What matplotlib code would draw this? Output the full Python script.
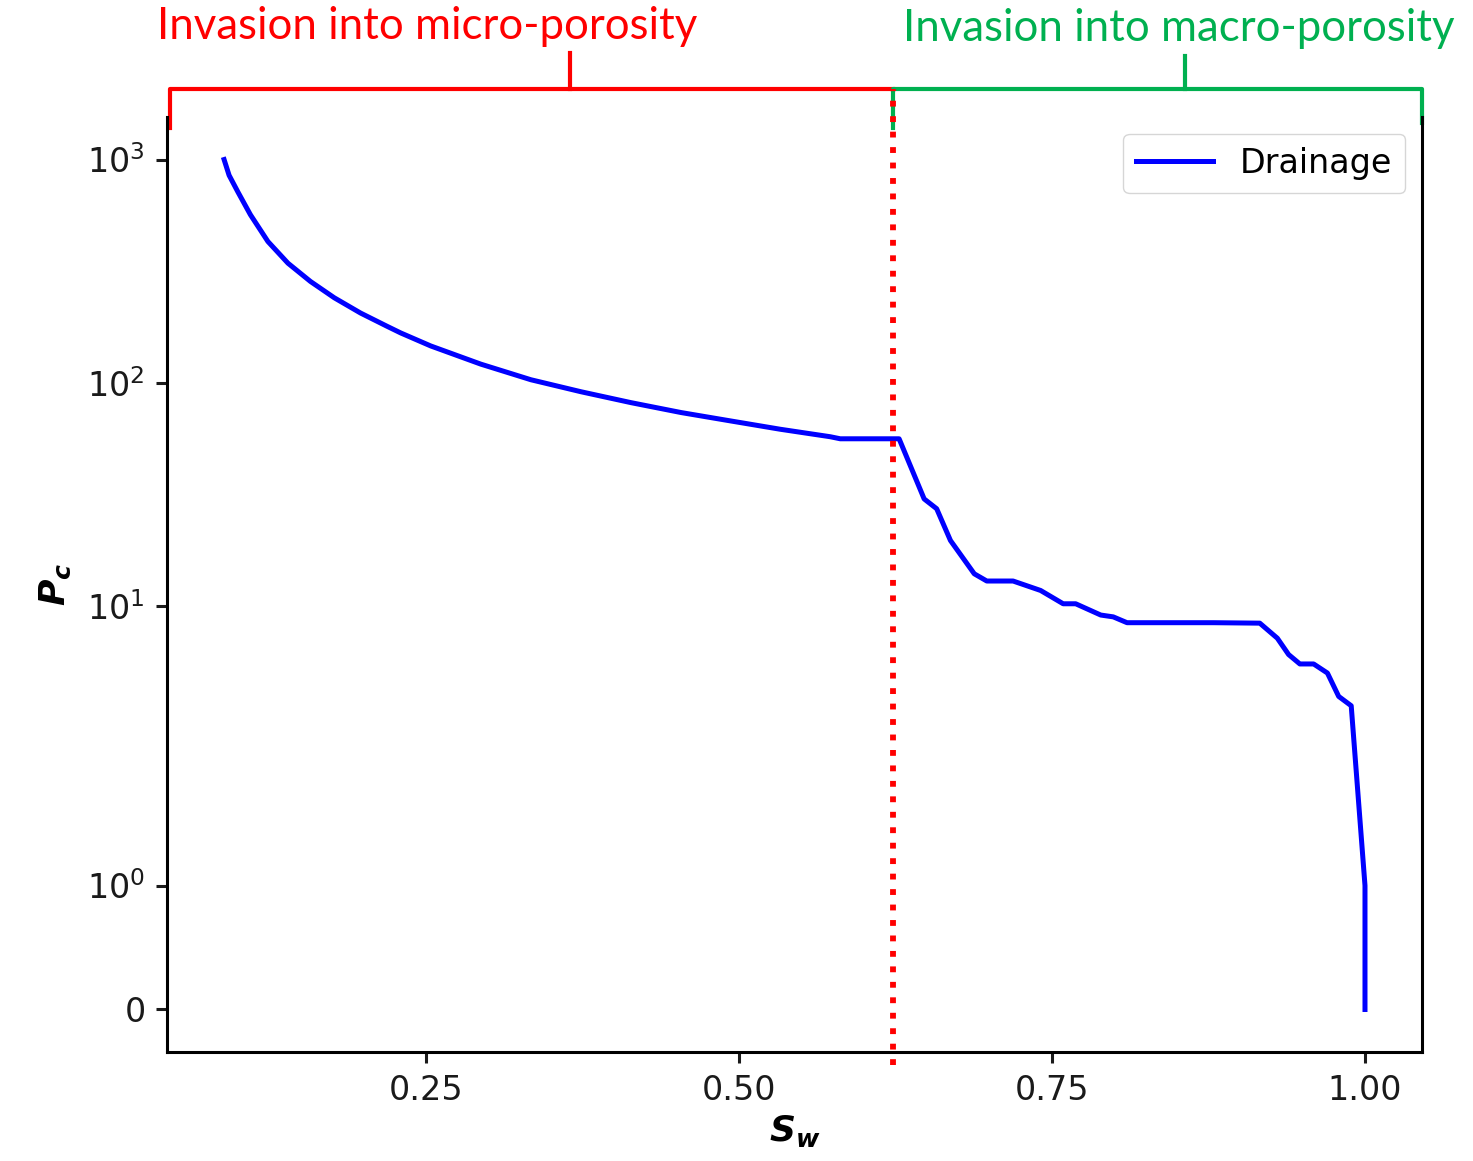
import matplotlib.pyplot as plt
from matplotlib.ticker import FormatStrFormatter, NullLocator

# Кривая дренирования: водонасыщенность и капиллярное давление.
sw = [0.089, 0.093, 0.100, 0.110, 0.124, 0.140, 0.158, 0.177, 0.198, 0.219,
      0.230, 0.254, 0.294, 0.334, 0.374, 0.414, 0.454, 0.493, 0.533, 0.573,
      0.581, 0.628, 0.648, 0.658, 0.669, 0.688, 0.698, 0.719, 0.741, 0.759,
      0.769, 0.789, 0.799, 0.810, 0.879, 0.916, 0.930, 0.939, 0.948, 0.959,
      0.970, 0.979, 0.989, 1.000, 1.000]
pc = [1000, 850, 716, 566, 429, 343, 284, 240, 205, 179,
      167, 146, 121, 103, 91.0, 81.3, 73.4, 67.4, 61.8, 57.2,
      56.0, 56.0, 30.1, 27.2, 19.6, 13.9, 12.9, 12.9, 11.7, 10.2,
      10.2, 9.08, 8.91, 8.39, 8.39, 8.35, 7.15, 6.04, 5.48, 5.48,
      4.99, 3.92, 3.56, 1.0, 0.0]

y_ticks = [0, 1, 10, 100, 1000]
x_ticks = [0.25, 0.50, 0.75, 1.00]

# Граница между микро- и макропористостью.
sw_split = 0.623
micro_label = "Invasion into micro-porosity"
macro_label = "Invasion into macro-porosity"

red = '#FF0000'
green = '#00B050'

fig = plt.figure(figsize=(14.73, 11.61), dpi=100)
ax = fig.add_axes([0.1134, 0.0939, 0.852, 0.8053])

ax.plot(sw, pc, color='#0000FF', linewidth=3.6, label='Drainage')
ax.set_yscale('symlog', linthresh=2)
ax.set_yticks(y_ticks)
ax.yaxis.set_minor_locator(NullLocator())
ax.set_xticks(x_ticks)
ax.xaxis.set_major_formatter(FormatStrFormatter('%.2f'))
# фиксируем пределы, чтобы скобки сверху их не сдвигали
x0, x1 = ax.get_xlim()
ax.set_xlim(x0, x1)
ax.set_ylim(ax.get_ylim())

# Оформление осей.
ax.spines['top'].set_visible(False)
for side in ['left', 'right', 'bottom']:
    ax.spines[side].set_linewidth(2.2)
ax.tick_params(labelsize=24, length=8, width=2.2, pad=8, colors='#1a1a1a')
ax.set_xlabel(r'$\mathbfit{S_w}$', fontsize=26, labelpad=4)
ax.set_ylabel(r'$\mathbfit{P_c}$', fontsize=26, labelpad=10)
ax.legend(loc='upper right', fontsize=24, handlelength=2.3,
          fancybox=True, framealpha=0.8)

# Скобки над графиком и пунктир на границе областей.
tr = ax.get_xaxis_transform()
ax.plot([sw_split, sw_split], [-0.014, 1.03], transform=tr, clip_on=False,
        color=red, linestyle=':', linewidth=4.2, zorder=5)

ax.plot([x0 + 0.0025, x0 + 0.0025, sw_split], [0.988, 1.03, 1.03],
        transform=tr, clip_on=False, color=red, linewidth=3)
ax.plot([0.365, 0.365], [1.03, 1.068], transform=tr, clip_on=False,
        color=red, linewidth=3)
ax.plot([sw_split, sw_split, x1, x1], [0.988, 1.03, 1.03, 0.994],
        transform=tr, clip_on=False, color=green, linewidth=3)
ax.plot([0.8564, 0.8564], [1.03, 1.065], transform=tr, clip_on=False,
        color=green, linewidth=3)

ax.text(0.251, 1.083, micro_label, transform=tr, color=red, fontsize=31.5,
        family='Lato', ha='center', va='baseline')
ax.text(0.851, 1.081, macro_label, transform=tr, color=green, fontsize=31.5,
        family='Lato', ha='center', va='baseline')

fig.savefig('out.png', dpi=100)
